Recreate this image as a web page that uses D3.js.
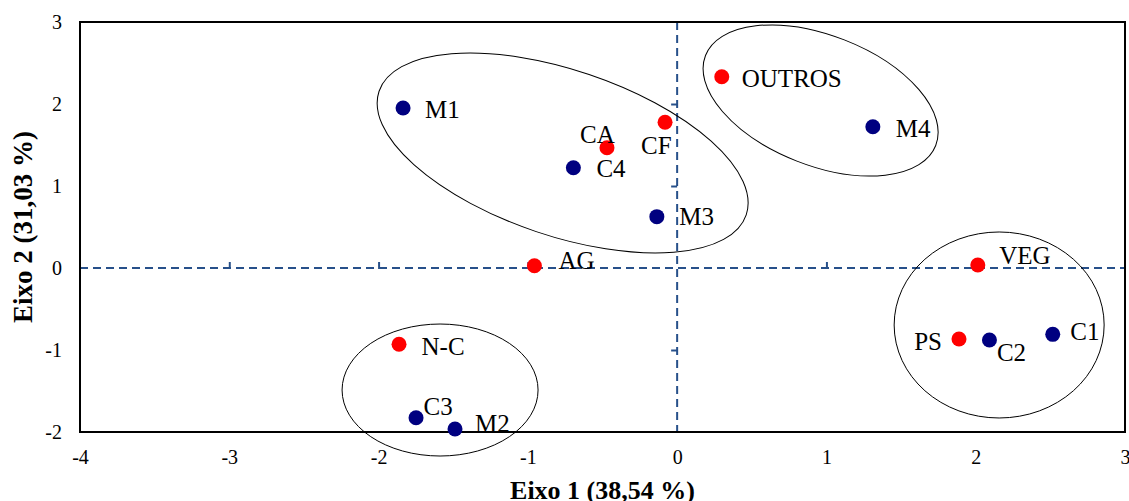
<!DOCTYPE html>
<html>
<head>
<meta charset="utf-8">
<script src="https://cdn.jsdelivr.net/npm/d3@7"></script>
<style>
  html, body { margin: 0; padding: 0; background: #fff; }
  svg { display: block; font-family: "Liberation Serif", "Times New Roman", serif; }
</style>
</head>
<body>
<svg id="chart" width="1129" height="501"></svg>
<script>
// ---- data ----
const names   = ["M1", "CA", "CF", "C4", "M3", "OUTROS", "M4", "AG", "VEG", "PS", "C2", "C1", "N-C", "C3", "M2"];
const axis1   = [-1.836, -0.470, -0.081, -0.695, -0.136, 0.299, 1.311, -0.956, 2.014, 1.888, 2.092, 2.516, -1.863, -1.749, -1.488];
const axis2   = [1.951, 1.467, 1.777, 1.223, 0.626, 2.333, 1.723, 0.028, 0.037, -0.866, -0.878, -0.809, -0.930, -1.826, -1.963];
const groupOf = ["obj", "var", "var", "obj", "obj", "var", "obj", "var", "var", "var", "obj", "obj", "var", "obj", "obj"];
const xTicks  = [-4, -3, -2, -1, 0, 1, 2, 3];
const yTicks  = [-2, -1, 0, 1, 2, 3];
const xTitle  = "Eixo 1 (38,54 %)";
const yTitle  = "Eixo 2 (31,03 %)";
// cluster ellipse centres (data units)
const clusterCx = [-0.767, 0.961, 2.157, -1.588];
const clusterCy = [1.402, 2.043, -0.695, -1.488];

// ---- layout / style ----
const W = 1129, H = 501;
const plot = { left: 80, right: 1125, top: 22, bottom: 432 };
const colors = { obj: "#000080", var: "#ff0000" };
const axisBlue = "#27508a";
// ellipse shape in pixels: [rx, ry, rotation deg]
const clusterShape = [[193.7, 82.9, 18.6], [123.6, 65.1, 21.35], [105, 93, 0], [98, 66, 0]];
// label offsets from point centre: [dx, dy, anchor]
const labelOffset = {
  "M1": [22, 10, "start"], "CA": [-27, -5, "start"], "CF": [-24, 32, "start"],
  "C4": [23, 9, "start"], "M3": [22.5, 8.5, "start"], "OUTROS": [20, 10.5, "start"],
  "M4": [23, 10, "start"], "AG": [24, 3.5, "start"], "VEG": [21.5, -0.5, "start"],
  "PS": [-17, 11, "end"], "C2": [7.5, 21, "start"], "C1": [17.5, 6, "start"],
  "N-C": [22.5, 10.5, "start"], "C3": [7.5, -2.5, "start"], "M2": [20, 3, "start"]
};

const svg = d3.select("#chart");
const x = d3.scaleLinear().domain([-4, 3]).range([plot.left, plot.right]);
const y = d3.scaleLinear().domain([-2, 3]).range([plot.bottom, plot.top]);

// dashed zero lines
svg.append("line")
  .attr("x1", plot.left).attr("x2", plot.right)
  .attr("y1", y(0)).attr("y2", y(0))
  .attr("stroke", axisBlue).attr("stroke-width", 2).attr("stroke-dasharray", "8,5");
svg.append("line")
  .attr("x1", x(0)).attr("x2", x(0))
  .attr("y1", plot.top).attr("y2", plot.bottom)
  .attr("stroke", axisBlue).attr("stroke-width", 2).attr("stroke-dasharray", "8,5");

// small ticks on zero lines
const gxIn = svg.append("g").attr("transform", `translate(0,${y(0)})`)
  .call(d3.axisTop(x).tickValues(xTicks.filter(v => v !== 0 && v !== -4 && v !== 3)).tickSize(6).tickFormat(""));
gxIn.select(".domain").remove();
gxIn.selectAll(".tick line").attr("stroke", axisBlue).attr("stroke-width", 2).attr("y2", -6).attr("y1", 1);
const gyIn = svg.append("g").attr("transform", `translate(${x(0)},0)`)
  .call(d3.axisLeft(y).tickValues(yTicks.filter(v => v !== 0 && v !== -2 && v !== 3)).tickSize(6).tickFormat(""));
gyIn.select(".domain").remove();
gyIn.selectAll(".tick line").attr("stroke", axisBlue).attr("stroke-width", 2);

// cluster ellipses
svg.append("g").selectAll("ellipse")
  .data(clusterCx.map((cx, i) => ({ cx, cy: clusterCy[i], s: clusterShape[i] })))
  .join("ellipse")
  .attr("transform", d => `translate(${x(d.cx)},${y(d.cy)}) rotate(${d.s[2]})`)
  .attr("rx", d => d.s[0]).attr("ry", d => d.s[1])
  .attr("fill", "none").attr("stroke", "#000").attr("stroke-width", 1);

// frame
svg.append("rect")
  .attr("x", plot.left).attr("y", plot.top)
  .attr("width", plot.right - plot.left).attr("height", plot.bottom - plot.top)
  .attr("fill", "none").attr("stroke", "#000").attr("stroke-width", 2);

// tick labels
const gx = svg.append("g").attr("transform", `translate(0,${plot.bottom})`)
  .call(d3.axisBottom(x).tickValues(xTicks).tickSize(0).tickPadding(18).tickFormat(d => String(d)));
gx.select(".domain").remove();
gx.selectAll("text").attr("font-size", 20).attr("font-family", "Liberation Serif").attr("fill", "#000");
const gy = svg.append("g").attr("transform", `translate(${plot.left},0)`)
  .call(d3.axisLeft(y).tickValues(yTicks).tickSize(0).tickPadding(18).tickFormat(d => String(d)));
gy.select(".domain").remove();
gy.selectAll("text").attr("font-size", 20).attr("font-family", "Liberation Serif").attr("fill", "#000");

// points
const pts = names.map((n, i) => ({ n, a: axis1[i], b: axis2[i], g: groupOf[i] }));
svg.append("g").selectAll("circle").data(pts).join("circle")
  .attr("cx", d => x(d.a)).attr("cy", d => y(d.b)).attr("r", 7.5)
  .attr("fill", d => colors[d.g]);

// labels
svg.append("g").selectAll("text").data(pts).join("text")
  .attr("x", d => x(d.a) + labelOffset[d.n][0])
  .attr("y", d => y(d.b) + labelOffset[d.n][1])
  .attr("text-anchor", d => labelOffset[d.n][2])
  .attr("font-size", 25).attr("fill", "#000")
  .text(d => d.n);

// axis titles
svg.append("text")
  .attr("x", (plot.left + plot.right) / 2).attr("y", 499)
  .attr("text-anchor", "middle").attr("font-size", 26).attr("font-weight", "bold")
  .text(xTitle);
svg.append("text")
  .attr("transform", `translate(32,${(plot.top + plot.bottom) / 2}) rotate(-90)`)
  .attr("text-anchor", "middle").attr("font-size", 27).attr("font-weight", "bold")
  .text(yTitle);
</script>
</body>
</html>
